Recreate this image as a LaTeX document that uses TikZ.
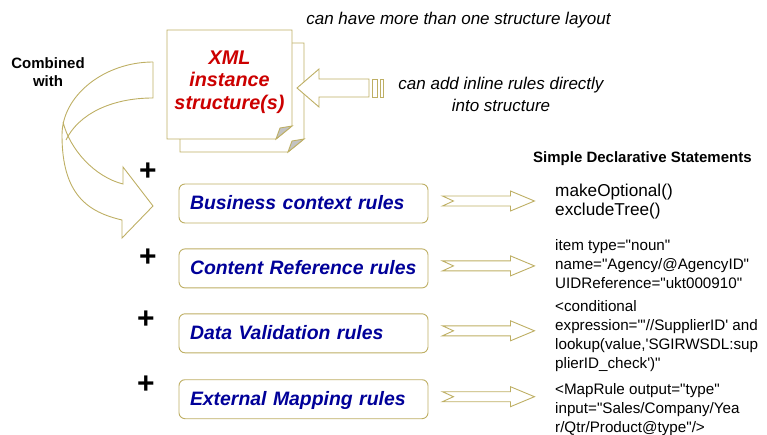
\documentclass[tikz,border=0pt]{standalone}
\usepackage{fontspec}
\setmainfont{Liberation Sans}
\usepackage{tikz}
\usetikzlibrary{positioning}
\definecolor{rimgold}{RGB}{190,175,100}
\definecolor{xmlred}{RGB}{204,0,0}
\definecolor{rulenavy}{RGB}{0,0,153}
\definecolor{foldgrey}{RGB}{195,195,195}
\newcommand{\dq}{\textquotedbl}
\newcommand{\sq}{\textquotesingle}

\begin{document}
\begin{tikzpicture}[x=1pt, y=-1pt,
    outline/.style={draw=rimgold, line width=0.9pt},
    rulebox/.style={outline, fill=white, rounded corners=6pt, minimum height=39pt,
        text width=227pt, inner xsep=11pt, align=left, text height=15pt, text depth=3pt,
        font=\fontsize{19.4}{22}\selectfont\bfseries\itshape, text=rulenavy},
    plus/.style={font=\fontsize{30}{30}\selectfont\bfseries},
    note/.style={font=\fontsize{17}{22}\selectfont\itshape, align=center},
    stmt/.style={anchor=north west, inner sep=0pt, align=left, font=\fontsize{15.2}{19}\selectfont}
]
\useasboundingbox (0,0) rectangle (767,435);

% stacked pages
\draw[outline, fill=white] (180,43) -- (304,43) -- (304,139) -- (288,152) -- (180,152) -- cycle;
\filldraw[outline, fill=foldgrey] (288,152) -- (304,139) -- (292,141) -- cycle;
\draw[outline, fill=white] (167,30) -- (292,30) -- (292,126) -- (276,139) -- (167,139) -- cycle;
\filldraw[outline, fill=foldgrey] (276,139) -- (292,126) -- (280,128) -- cycle;
\node[font=\fontsize{19.8}{22.5}\selectfont\bfseries\itshape, text=xmlred, align=center] (xml) at (229.5,82) {XML\\instance\\structure(s)};

% inline rules arrow
\draw[outline, fill=white] (297,88) -- (319,69) -- (319,79) -- (369,79) -- (369,97) -- (319,97) -- (319,107) -- cycle;
\draw[outline] (372,79) rectangle (377,97);
\draw[outline] (380,79) rectangle (383,97);

\node[note] (layout) at (458.5,20) {can have more than one structure layout};
\node[note] (inline) at (501,94) {can add inline rules directly\\into structure};
\node[font=\fontsize{15}{18}\selectfont\bfseries, align=center] (combined) at (48,72) {Combined\\with};

% curved arrow
\draw[outline] (153,62) .. controls (105,62) and (62,95) .. (62,135)
    .. controls (62,195) and (88,212) .. (122,220) -- (122,238) -- (153,206) -- (123,167) -- (123,184)
    .. controls (95,177) and (70,150) .. (63,122);
\draw[outline] (153,62) -- (153,98) .. controls (110,98) and (78,115) .. (66,140);

% rule boxes
\node[rulebox] (bcr) at (303.5,203.5) {Business context rules};
\node[rulebox, below=25pt of bcr] (crr) {Content Reference rules};
\node[rulebox, below=25pt of crr] (dvr) {Data Validation rules};
\node[rulebox, below=26pt of dvr] (emr) {External Mapping rules};

\node[plus] (p1) at (148,172) {+};
\node[plus] (p2) at (148,258) {+};
\node[plus] (p3) at (146,320) {+};
\node[plus] (p4) at (146,385) {+};

\foreach \r in {bcr,crr,dvr,emr}
    \draw[outline] ([xshift=14pt,yshift=7.5pt]\r.east) -- ++(68,0) -- ++(0,-5) -- ++(24,10)
        -- ++(-24,10) -- ++(0,-5) -- ++(-68,0) -- ++(11,-5) -- cycle;

% statements
\node[anchor=base west, inner sep=0pt, font=\fontsize{15}{18}\selectfont\bfseries] (sds) at (533,163) {Simple Declarative Statements};
\node[stmt, font=\fontsize{17.2}{19}\selectfont] (s1) at (555,184) {makeOptional()\\excludeTree()};
\node[stmt] (s2) at (555,239) {item type=\dq noun\dq\\name=\dq Agency/@AgencyID\dq\\UIDReference=\dq ukt000910\dq};
\node[stmt] (s3) at (555,300) {<conditional\\expression=\dq\sq//SupplierID\sq{} and\\lookup(value,\sq SGIRWSDL:sup\\plierID\_check\sq)\dq};
\node[stmt] (s4) at (555,383) {<MapRule output=\dq type\dq\\input=\dq Sales/Company/Yea\\r/Qtr/Product@type\dq/>};
\end{tikzpicture}
\end{document}
